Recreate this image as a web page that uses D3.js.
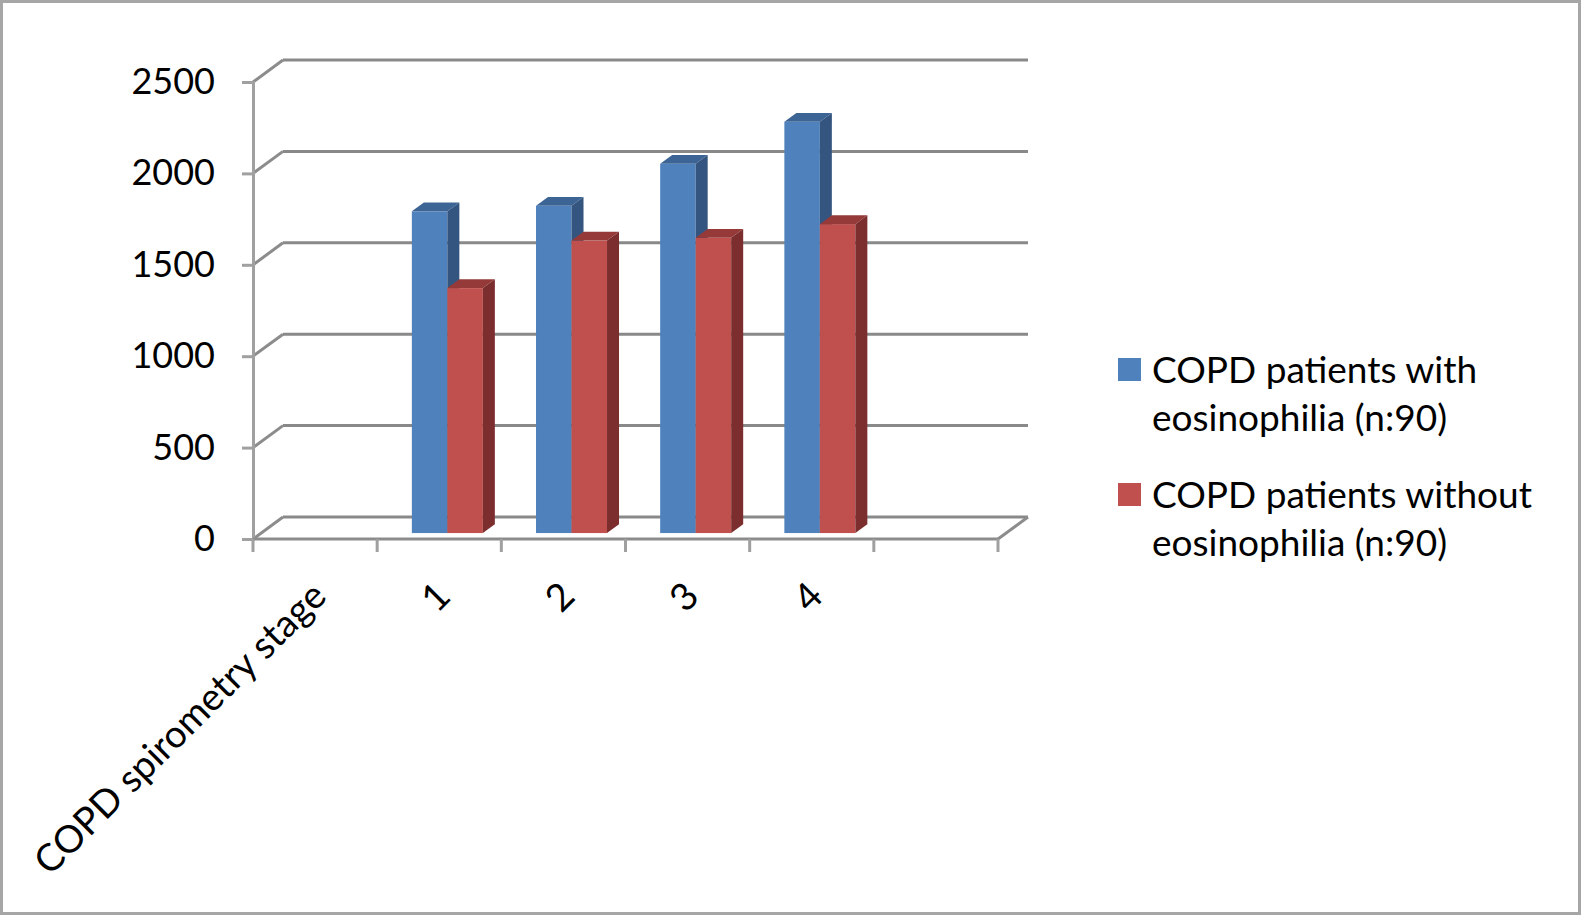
<!DOCTYPE html>
<html>
<head>
<meta charset="utf-8">
<script src="https://cdn.jsdelivr.net/npm/d3@7"></script>
<style>
  body { margin: 0; background: #fff; }
  svg { display: block; font-family: Lato, "Open Sans", sans-serif; }
</style>
</head>
<body>
<div id="chart"></div>
<script>
// Chart data
const categories = ["COPD spirometry stage", "1", "2", "3", "4", ""]
const seriesNames = ["COPD patients with eosinophilia (n:90)", "COPD patients without eosinophilia (n:90)"]
const withEosinophilia = [null, 1760, 1790, 2020, 2250, null]
const withoutEosinophilia = [null, 1340, 1600, 1615, 1690, null]
const yTicks = [0, 500, 1000, 1500, 2000, 2500]
const legendLines = [["COPD patients with", "eosinophilia (n:90)"], ["COPD patients without", "eosinophilia (n:90)"]]

const W = 1582, H = 916

// 3D look: front plane, and the shift of the back wall
const front = { left: 253, right: 998, top: 82, bottom: 539 }
const depth = { dx: 30, dy: -22 }
const barDepth = { from: 0.27, to: 0.67 }

const colors = [
  { front: "#4f81bd", top: "#3c6494", side: "#34557f" },
  { front: "#c0504d", top: "#953a38", side: "#7b2e2d" }
]

const svg = d3.select("#chart")
  .append("svg")
  .attr("width", W)
  .attr("height", H)

// Outer border
svg.append("rect")
  .attr("x", 1.5).attr("y", 1.5)
  .attr("width", W - 4).attr("height", H - 4)
  .attr("fill", "#fff")
  .attr("stroke", "#a6a6a6")
  .attr("stroke-width", 3)

// Scales
const y = d3.scaleLinear()
  .domain([0, 2500])
  .range([front.bottom, front.top])

const x = d3.scaleBand()
  .domain(categories.map((d, i) => i))
  .range([front.left, front.right])
  .padding(0)

const inner = d3.scaleBand()
  .domain(seriesNames)
  .range([0, 71])
  .padding(0)

const off = t => ({ dx: depth.dx * t, dy: depth.dy * t })

// Back wall gridlines
const back = off(1)
svg.append("g")
  .selectAll("line")
  .data(yTicks)
  .enter()
  .append("line")
  .attr("x1", front.left + back.dx)
  .attr("x2", front.right + back.dx)
  .attr("y1", d => y(d) + back.dy)
  .attr("y2", d => y(d) + back.dy)
  .attr("stroke", "#898989")
  .attr("stroke-width", 3)

// Side wall diagonals
svg.append("g")
  .selectAll("line")
  .data(yTicks)
  .enter()
  .append("line")
  .attr("x1", front.left)
  .attr("x2", front.left + back.dx)
  .attr("y1", d => y(d))
  .attr("y2", d => y(d) + back.dy)
  .attr("stroke", "#8c8c8c")
  .attr("stroke-width", 3)

// Floor right edge
svg.append("line")
  .attr("x1", front.right).attr("y1", y(0))
  .attr("x2", front.right + back.dx).attr("y2", y(0) + back.dy)
  .attr("stroke", "#8c8c8c")
  .attr("stroke-width", 3)

// Y axis
const yAxis = svg.append("g")
  .attr("transform", `translate(${front.left},0)`)
  .call(d3.axisLeft(y).tickValues(yTicks).tickSize(11).tickPadding(27).tickFormat(d3.format("d")))

yAxis.select(".domain").attr("stroke", "#a0a0a0").attr("stroke-width", 3)
yAxis.selectAll(".tick line").attr("stroke", "#a0a0a0").attr("stroke-width", 3)
yAxis.selectAll(".tick text")
  .attr("fill", "#000")
  .style("font-size", "36px")
  .style("font-family", "Lato, 'Open Sans', sans-serif")

// X axis (category boundaries get the ticks)
const bounds = d3.range(categories.length + 1).map(i => front.left + i * x.bandwidth())
svg.append("line")
  .attr("x1", front.left).attr("x2", front.right)
  .attr("y1", y(0)).attr("y2", y(0))
  .attr("stroke", "#8c8c8c")
  .attr("stroke-width", 3)

svg.append("g")
  .selectAll("line")
  .data(bounds)
  .enter()
  .append("line")
  .attr("x1", d => d).attr("x2", d => d)
  .attr("y1", y(0)).attr("y2", y(0) + 13)
  .attr("stroke", "#a0a0a0")
  .attr("stroke-width", 3)

// Rotated category labels
svg.append("g")
  .selectAll("text")
  .data(categories)
  .enter()
  .append("text")
  .attr("transform", (d, i) => `translate(${x(i) + x.bandwidth() / 2 + 4},${y(0) + 50}) rotate(-45)`)
  .attr("text-anchor", "end")
  .attr("dy", "0.35em")
  .style("font-size", "38px")
  .attr("fill", "#000")
  .text(d => d)

// Bars
const p0 = off(barDepth.from)
const p1 = off(barDepth.to)
const sdx = p1.dx - p0.dx
const sdy = p1.dy - p0.dy
const seriesValues = [withEosinophilia, withoutEosinophilia]

const barData = []
categories.forEach((c, i) => {
  seriesNames.forEach((s, j) => {
    const v = seriesValues[j][i]
    if (v == null) return
    const x0 = x(i) + x.bandwidth() / 2 - inner.step() + inner(s) + p0.dx
    const x1 = x0 + inner.bandwidth()
    const yt = y(v) + p0.dy
    const yb = y(0) + p0.dy
    barData.push({ x0, x1, yt, yb, c: colors[j] })
  })
})

const bars = svg.append("g")
  .selectAll("g")
  .data(barData)
  .enter()
  .append("g")

bars.append("rect")
  .attr("x", d => d.x0)
  .attr("y", d => d.yt)
  .attr("width", d => d.x1 - d.x0)
  .attr("height", d => d.yb - d.yt)
  .attr("fill", d => d.c.front)

bars.append("polygon")
  .attr("points", d => [[d.x0, d.yt], [d.x1, d.yt], [d.x1 + sdx, d.yt + sdy], [d.x0 + sdx, d.yt + sdy]].join(" "))
  .attr("fill", d => d.c.top)

bars.append("polygon")
  .attr("points", d => [[d.x1, d.yt], [d.x1 + sdx, d.yt + sdy], [d.x1 + sdx, d.yb + sdy], [d.x1, d.yb]].join(" "))
  .attr("fill", d => d.c.side)

// Legend
const legend = svg.append("g")
  .selectAll("g")
  .data(seriesNames)
  .enter()
  .append("g")
  .attr("transform", (d, i) => `translate(1118,${358 + i * 125})`)

legend.append("rect")
  .attr("width", 23)
  .attr("height", 23)
  .attr("fill", (d, i) => colors[i].front)

legend.append("text")
  .attr("x", 34)
  .attr("y", 25)
  .style("font-size", "37px")
  .attr("fill", "#000")
  .selectAll("tspan")
  .data((d, i) => legendLines[i])
  .enter()
  .append("tspan")
  .attr("x", 34)
  .attr("dy", (d, k) => k === 0 ? 0 : 48)
  .text(d => d)
</script>
</body>
</html>
